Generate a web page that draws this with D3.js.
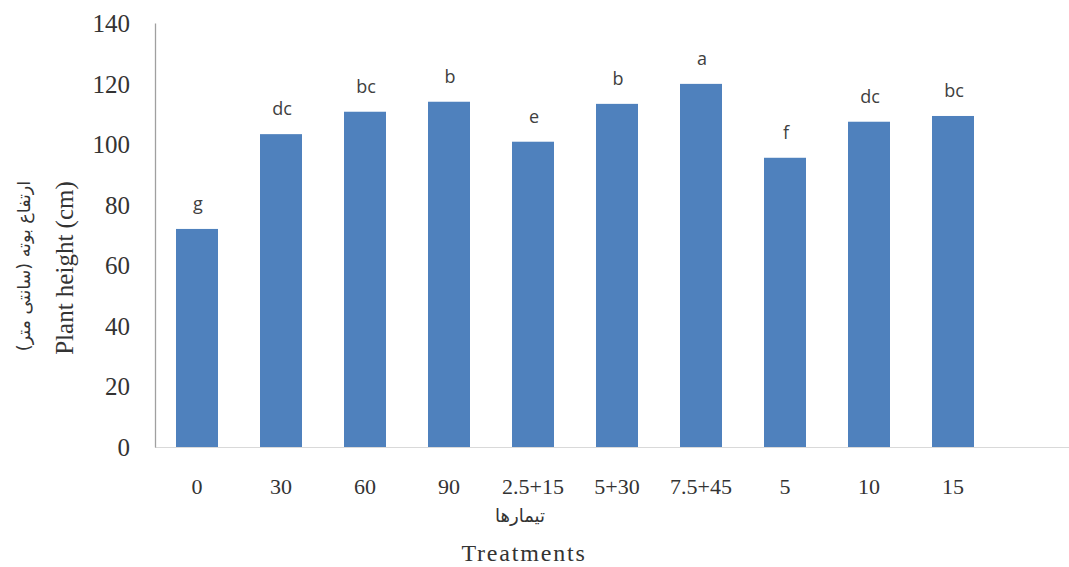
<!DOCTYPE html>
<html>
<head>
<meta charset="utf-8">
<script src="https://cdn.jsdelivr.net/npm/d3@7"></script>
<style>
  html, body { margin: 0; padding: 0; background: #ffffff; }
  svg { display: block; }
</style>
</head>
<body>
<svg id="chart" width="1069" height="567"></svg>
<script>
// Plant height per treatment, with mean-separation letters
const treatments = ["0", "30", "60", "90", "2.5+15", "5+30", "7.5+45", "5", "10", "15"];
const heights = [72, 103.3, 110.7, 114, 100.8, 113.3, 119.9, 95.5, 107.4, 109.3];
const letters = ["g", "dc", "bc", "b", "e", "b", "a", "f", "dc", "bc"];
const yTicks = [0, 20, 40, 60, 80, 100, 120, 140];

const chartW = 1069, chartH = 567;
const plotLeft = 155, plotTop = 23, plotBottom = 447;
const step = 84;

const svg = d3.select("#chart");

const x = d3.scaleBand()
  .domain(treatments)
  .range([plotLeft, plotLeft + step * treatments.length])
  .paddingInner(0.5)
  .paddingOuter(0.25);

const y = d3.scaleLinear()
  .domain([0, 140])
  .range([plotBottom, plotTop]);

// bars
svg.append("g")
  .selectAll("rect")
  .data(treatments)
  .join("rect")
  .attr("x", d => x(d))
  .attr("y", (d, i) => y(heights[i]))
  .attr("width", x.bandwidth())
  .attr("height", (d, i) => y(0) - y(heights[i]))
  .attr("fill", "#4f81bd");

// significance letters
svg.append("g")
  .selectAll("text")
  .data(treatments)
  .join("text")
  .attr("x", d => x(d) + x.bandwidth() / 2 + 1)
  .attr("y", (d, i) => y(heights[i]) - 19)
  .attr("text-anchor", "middle")
  .attr("font-family", "'Open Sans', sans-serif")
  .attr("font-size", 18)
  .attr("fill", "#404040")
  .text((d, i) => letters[i]);

// category baseline
svg.append("line")
  .attr("x1", plotLeft).attr("x2", chartW)
  .attr("y1", y(0) + 0.5).attr("y2", y(0) + 0.5)
  .attr("stroke", "#d9d9d9")
  .attr("stroke-width", 1.2);

// y axis
const yAxis = svg.append("g")
  .attr("transform", `translate(${plotLeft},0)`)
  .call(d3.axisLeft(y).tickValues(yTicks).tickSize(0).tickSizeOuter(0).tickPadding(25));
yAxis.select(".domain").attr("stroke", "#a0a0a0").attr("stroke-width", 1.3);
yAxis.selectAll(".tick text")
  .attr("font-family", "'Liberation Serif', 'Times New Roman', serif")
  .attr("font-size", 25)
  .attr("fill", "#333333")
  .attr("dy", "0.34em");

// x axis labels
const xAxis = svg.append("g")
  .attr("transform", `translate(0,${plotBottom})`)
  .call(d3.axisBottom(x).tickSize(0));
xAxis.select(".domain").remove();
xAxis.selectAll(".tick text")
  .attr("y", 47)
  .attr("dy", 0)
  .attr("font-family", "'Liberation Serif', 'Times New Roman', serif")
  .attr("font-size", 22)
  .attr("fill", "#333333");

// axis titles
svg.append("text")
  .attr("x", 520).attr("y", 522)
  .attr("text-anchor", "middle")
  .attr("direction", "rtl")
  .attr("font-family", "'DejaVu Sans', sans-serif")
  .attr("font-size", 18)
  .attr("fill", "#333333")
  .text("تیمارها");

svg.append("text")
  .attr("x", 524).attr("y", 561)
  .attr("text-anchor", "middle")
  .attr("font-family", "'Liberation Serif', 'Times New Roman', serif")
  .attr("font-size", 24)
  .attr("letter-spacing", 1.8)
  .attr("fill", "#333333")
  .text("Treatments");

svg.append("text")
  .attr("transform", "translate(73,268) rotate(-90)")
  .attr("text-anchor", "middle")
  .attr("font-family", "'Liberation Serif', 'Times New Roman', serif")
  .attr("font-size", 25)
  .attr("fill", "#333333")
  .text("Plant height (cm)");

svg.append("text")
  .attr("transform", "translate(30,266) rotate(-90)")
  .attr("text-anchor", "middle")
  .attr("direction", "rtl")
  .attr("font-family", "'DejaVu Sans', sans-serif")
  .attr("font-size", 17.5)
  .attr("fill", "#333333")
  .text("ارتفاع بوته (سانتی متر)");
</script>
</body>
</html>
